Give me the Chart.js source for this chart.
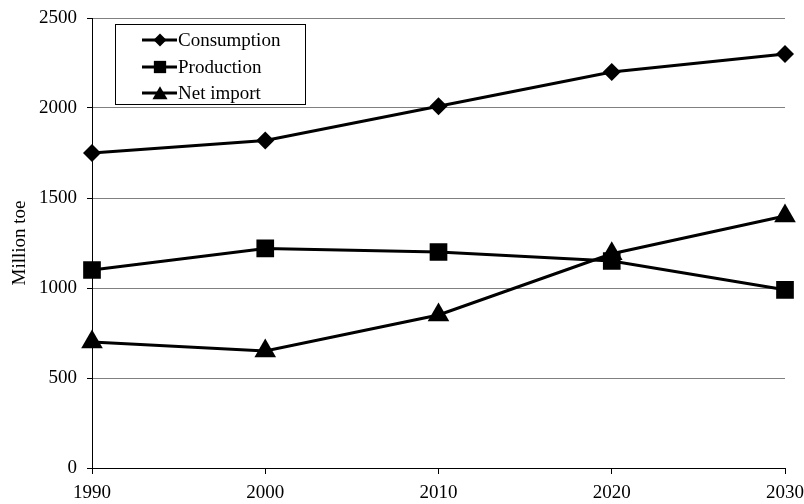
<!DOCTYPE html>
<html>
<head>
<meta charset="utf-8">
<script src="https://cdn.jsdelivr.net/npm/chart.js@4.4.1/dist/chart.umd.min.js"></script>
<style>
  html, body { margin: 0; padding: 0; background: #fff; }
  #wrap { width: 804px; height: 504px; position: relative; }
</style>
</head>
<body>
<div id="wrap"><canvas id="c" width="804" height="504"></canvas></div>
<script>
const years = ['1990', '2000', '2010', '2020', '2030'];
const consumption = [1750, 1820, 2010, 2200, 2300];
const production = [1100, 1220, 1200, 1150, 990];
const netImport = [700, 650, 850, 1190, 1400];
const yTicks = [0, 500, 1000, 1500, 2000, 2500];

const FONT = 'Liberation Serif, Times New Roman, serif';
const FONT_SIZE = 19;

// Boxed legend drawn inside the plot area, top-left
const boxLegend = {
  id: 'boxLegend',
  afterDraw(chart) {
    const ctx = chart.ctx;
    const x0 = 115, y0 = 24, w = 190, h = 80;
    ctx.save();
    ctx.fillStyle = '#fff';
    ctx.fillRect(x0, y0, w, h);
    ctx.strokeStyle = '#000';
    ctx.lineWidth = 1;
    ctx.strokeRect(x0 + 0.5, y0 + 0.5, w, h);
    const rows = [40, 67, 93];
    const legendRadius = [6.5, 8.7, 8.7];
    chart.data.datasets.forEach((ds, i) => {
      const y = rows[i];
      ctx.strokeStyle = '#000';
      ctx.lineWidth = 3;
      ctx.beginPath();
      ctx.moveTo(142, y);
      ctx.lineTo(177, y);
      ctx.stroke();
      ctx.fillStyle = '#000';
      Chart.helpers.drawPoint(ctx, {
        pointStyle: ds.pointStyle,
        radius: legendRadius[i],
        borderWidth: 0,
        rotation: 0
      }, 160, y + (ds.pointStyle === 'triangle' ? 2 : 0));
      ctx.fillStyle = '#000';
      ctx.font = FONT_SIZE + 'px ' + FONT;
      ctx.textBaseline = 'middle';
      ctx.textAlign = 'left';
      ctx.fillText(ds.label, 178, y + 1);
    });
    ctx.restore();
  }
};

const common = {
  borderColor: '#000',
  backgroundColor: '#000',
  pointBackgroundColor: '#000',
  pointBorderColor: '#000',
  borderWidth: 3,
  pointBorderWidth: 0,
  tension: 0,
  fill: false
};

new Chart(document.getElementById('c'), {
  type: 'line',
  data: {
    labels: years,
    datasets: [
      Object.assign({ label: 'Consumption', data: consumption, pointStyle: 'rectRot', pointRadius: 9 }, common),
      Object.assign({ label: 'Production', data: production, pointStyle: 'rect', pointRadius: 12.5 }, common),
      Object.assign({ label: 'Net import', data: netImport, pointStyle: 'triangle', pointRadius: 12.5 }, common)
    ]
  },
  options: {
    responsive: false,
    animation: false,
    layout: { padding: { top: 18, right: 19, left: 0, bottom: 0 } },
    plugins: {
      legend: { display: false },
      tooltip: { enabled: false }
    },
    scales: {
      x: {
        type: 'category',
        offset: false,
        grid: {
          drawOnChartArea: false,
          drawTicks: true,
          tickLength: 6,
          tickColor: '#000',
          color: '#000'
        },
        border: { display: true, color: '#000', width: 1 },
        ticks: {
          color: '#000',
          font: { family: FONT, size: FONT_SIZE },
          padding: 8,
          maxRotation: 0,
          autoSkip: false
        },
        afterFit(scale) { scale.height = 36; scale.paddingRight = 0; }
      },
      y: {
        min: 0,
        max: 2500,
        afterBuildTicks(scale) { scale.ticks = yTicks.map(v => ({ value: v })); },
        grid: {
          color: ctx => (ctx.tick && ctx.tick.value === 0) ? '#000' : '#808080',
          lineWidth: 1,
          drawTicks: true,
          tickLength: 5,
          tickColor: '#000'
        },
        border: { display: true, color: '#000', width: 1 },
        ticks: {
          color: '#000',
          font: { family: FONT, size: FONT_SIZE, lineHeight: 1 },
          padding: 10,
          callback: v => String(v)
        },
        title: {
          display: true,
          text: 'Million toe',
          color: '#000',
          font: { family: FONT, size: FONT_SIZE },
          padding: { top: 9, bottom: 0 }
        },
        afterFit(scale) { scale.width = 92; scale.paddingTop = 0; scale.paddingBottom = 0; }
      }
    }
  },
  plugins: [boxLegend]
});
</script>
</body>
</html>
